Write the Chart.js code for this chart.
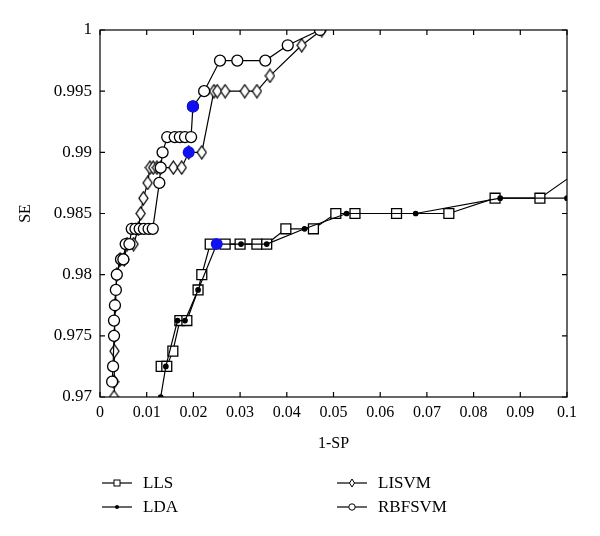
<!DOCTYPE html>
<html>
<head>
<meta charset="utf-8">
<script src="https://cdn.jsdelivr.net/npm/chart.js@4/dist/chart.umd.min.js"></script>
<style>
    body { margin: 0; background: #fff; }
    #wrap { position: relative; width: 600px; height: 536px; }
    .legend { position: absolute; font-family: "Liberation Serif", "Times New Roman", serif; font-size: 17px; color: #000; display: flex; align-items: center; }
    .legend svg { margin-right: 11px; }
</style>
</head>
<body>
<div id="wrap">
    <canvas id="rocChart" width="600" height="536"></canvas>
    <div class="legend" style="left:102px; top:472px;"><svg width="30" height="22"><line x1="0" y1="11" x2="30" y2="11" stroke="#000" stroke-width="1.2"/><rect x="12" y="8" width="6" height="6" fill="#fff" stroke="#000" stroke-width="1"/></svg>LLS</div>
    <div class="legend" style="left:102px; top:496px;"><svg width="30" height="22"><line x1="0" y1="11" x2="30" y2="11" stroke="#000" stroke-width="1.2"/><circle cx="15" cy="11" r="2" fill="#000"/></svg>LDA</div>
    <div class="legend" style="left:337px; top:472px;"><svg width="30" height="22"><line x1="0" y1="11" x2="30" y2="11" stroke="#000" stroke-width="1.2"/><polygon points="15,7 17.5,11 15,15 12.5,11" fill="#fff" stroke="#000" stroke-width="1"/></svg>LISVM</div>
    <div class="legend" style="left:337px; top:496px;"><svg width="30" height="22"><line x1="0" y1="11" x2="30" y2="11" stroke="#000" stroke-width="1.2"/><circle cx="15" cy="11" r="3.2" fill="#fff" stroke="#000" stroke-width="1"/></svg>RBFSVM</div>
</div>
<script>

const xTicks = [0, 0.01, 0.02, 0.03, 0.04, 0.05, 0.06, 0.07, 0.08, 0.09, 0.1];
const xTickLabels = ["0", "0.01", "0.02", "0.03", "0.04", "0.05", "0.06", "0.07", "0.08", "0.09", "0.1"];
const yTicks = [0.97, 0.975, 0.98, 0.985, 0.99, 0.995, 1];
const yTickLabels = ["0.97", "0.975", "0.98", "0.985", "0.99", "0.995", "1"];

const llsX = [0.0131, 0.0143, 0.0156, 0.0171, 0.0186, 0.021, 0.0218, 0.0236, 0.0268, 0.03, 0.0336, 0.0357, 0.0398, 0.0457, 0.0505, 0.0546, 0.0635, 0.0747, 0.0846, 0.0942, 0.1035];
const llsY = [0.9725, 0.9725, 0.97375, 0.97625, 0.97625, 0.97875, 0.98, 0.9825, 0.9825, 0.9825, 0.9825, 0.9825, 0.98375, 0.98375, 0.985, 0.985, 0.985, 0.985, 0.98625, 0.98625, 0.98875];

const ldaX = [0.013, 0.0141, 0.0166, 0.0182, 0.021, 0.025, 0.0302, 0.0357, 0.0438, 0.0528, 0.0676, 0.0857, 0.1];
const ldaY = [0.97, 0.9725, 0.97625, 0.97625, 0.97875, 0.9825, 0.9825, 0.9825, 0.98375, 0.985, 0.985, 0.98625, 0.98625];

const lisvmX = [0.003, 0.003, 0.0031, 0.0031, 0.0033, 0.0036, 0.0043, 0.0052, 0.0058, 0.0072, 0.0082, 0.0087, 0.0093, 0.0102, 0.0107, 0.0114, 0.0122, 0.013, 0.0157, 0.0175, 0.019, 0.0218, 0.0244, 0.0251, 0.0268, 0.031, 0.0336, 0.0364, 0.0432, 0.0475];
const lisvmY = [0.97, 0.97125, 0.97375, 0.975, 0.9775, 0.98, 0.98125, 0.98125, 0.9825, 0.9825, 0.98375, 0.985, 0.98625, 0.9875, 0.98875, 0.98875, 0.98875, 0.98875, 0.98875, 0.98875, 0.99, 0.99, 0.995, 0.995, 0.995, 0.995, 0.995, 0.99625, 0.99875, 1];

const rbfX = [0.0026, 0.0028, 0.003, 0.003, 0.0032, 0.0034, 0.0036, 0.0045, 0.005, 0.0055, 0.0063, 0.0068, 0.0076, 0.0085, 0.0094, 0.0104, 0.0113, 0.0127, 0.013, 0.0134, 0.0144, 0.016, 0.0171, 0.0182, 0.0195, 0.0199, 0.0223, 0.0257, 0.0294, 0.0354, 0.0402, 0.0471];
const rbfY = [0.97125, 0.9725, 0.975, 0.97625, 0.9775, 0.97875, 0.98, 0.98125, 0.98125, 0.9825, 0.9825, 0.98375, 0.98375, 0.98375, 0.98375, 0.98375, 0.98375, 0.9875, 0.98875, 0.99, 0.99125, 0.99125, 0.99125, 0.99125, 0.99125, 0.99375, 0.995, 0.9975, 0.9975, 0.9975, 0.99875, 1];

// highlighted operating points
const blueX = [0.0199, 0.019, 0.025];
const blueY = [0.99375, 0.99, 0.9825];

const FONT = "'Liberation Serif', 'Times New Roman', serif";

function toPoints(xs, ys) {
    return xs.map((x, i) => ({ x, y: ys[i] }));
}

// narrow diamond marker
function diamond(w, h) {
    const c = document.createElement("canvas");
    c.width = w + 2;
    c.height = h + 2;
    const g = c.getContext("2d");
    g.beginPath();
    g.moveTo(c.width / 2, 1);
    g.lineTo(c.width - 1, c.height / 2);
    g.lineTo(c.width / 2, c.height - 1);
    g.lineTo(1, c.height / 2);
    g.closePath();
    g.fillStyle = "#fff";
    g.fill();
    g.lineWidth = 1.3;
    g.strokeStyle = "#000";
    g.stroke();
    return c;
}

function series(label, xs, ys, style, order) {
    return Object.assign({
        label,
        data: toPoints(xs, ys),
        showLine: true,
        borderColor: "#000",
        borderWidth: 1.2,
        pointBorderColor: "#000",
        pointBackgroundColor: "#fff",
        pointBorderWidth: 1.3,
        order
    }, style);
}

const boxTicks = {
    id: "boxTicks",
    afterDraw(chart) {
        const { ctx, chartArea: a, scales } = chart;
        const len = 5;
        ctx.save();
        ctx.strokeStyle = "#000";
        ctx.lineWidth = 1.2;
        ctx.strokeRect(a.left, a.top, a.right - a.left, a.bottom - a.top);
        ctx.beginPath();
        xTicks.forEach(v => {
            const px = scales.x.getPixelForValue(v);
            ctx.moveTo(px, a.bottom); ctx.lineTo(px, a.bottom - len);
            ctx.moveTo(px, a.top); ctx.lineTo(px, a.top + len);
        });
        yTicks.forEach(v => {
            const py = scales.y.getPixelForValue(v);
            ctx.moveTo(a.left, py); ctx.lineTo(a.left + len, py);
            ctx.moveTo(a.right, py); ctx.lineTo(a.right - len, py);
        });
        ctx.stroke();
        ctx.restore();
    }
};

new Chart(document.getElementById("rocChart"), {
    type: "scatter",
    data: {
        datasets: [
            {
                label: "operating point",
                data: toPoints(blueX, blueY),
                pointStyle: "circle",
                pointRadius: 6,
                pointBackgroundColor: "#1010f0",
                pointBorderColor: "#1010f0",
                pointBorderWidth: 0,
                showLine: false,
                order: 0
            },
            series("LLS", llsX, llsY, { pointStyle: "rect", pointRadius: 7 }, 2),
            series("LDA", ldaX, ldaY, { pointStyle: "circle", pointRadius: 2.2, pointBackgroundColor: "#000" }, 1),
            series("LISVM", lisvmX, lisvmY, { pointStyle: diamond(9, 13), pointRadius: 6 }, 4),
            series("RBFSVM", rbfX, rbfY, { pointStyle: "circle", pointRadius: 5.5 }, 3)
        ]
    },
    options: {
        responsive: false,
        animation: false,
        layout: { padding: { left: 0, top: 30, right: 33, bottom: 79 } },
        plugins: {
            legend: { display: false },
            tooltip: { enabled: false }
        },
        scales: {
            x: {
                type: "linear",
                min: 0,
                max: 0.1,
                grid: { display: false, drawTicks: false },
                border: { display: false },
                afterBuildTicks: scale => { scale.ticks = xTicks.map(v => ({ value: v })); },
                afterFit: scale => { scale.height = 60; },
                ticks: {
                    padding: 6,
                    maxRotation: 0,
                    autoSkip: false,
                    color: "#000",
                    font: { family: FONT, size: 16 },
                    callback: (v, i) => xTickLabels[i]
                },
                title: {
                    display: true,
                    text: "1-SP",
                    color: "#000",
                    font: { family: FONT, size: 16 },
                    padding: { top: 0, bottom: 4 }
                }
            },
            y: {
                type: "linear",
                min: 0.97,
                max: 1,
                grid: { display: false, drawTicks: false },
                border: { display: false },
                afterBuildTicks: scale => { scale.ticks = yTicks.map(v => ({ value: v })); },
                afterFit: scale => { scale.width = 100; },
                ticks: {
                    padding: 8,
                    autoSkip: false,
                    color: "#000",
                    font: { family: FONT, size: 17 },
                    callback: (v, i) => yTickLabels[i]
                },
                title: {
                    display: true,
                    text: "SE",
                    color: "#000",
                    font: { family: FONT, size: 16 },
                    padding: { top: 16, bottom: 0 }
                }
            }
        }
    },
    plugins: [boxTicks]
});

</script>
</body>
</html>
